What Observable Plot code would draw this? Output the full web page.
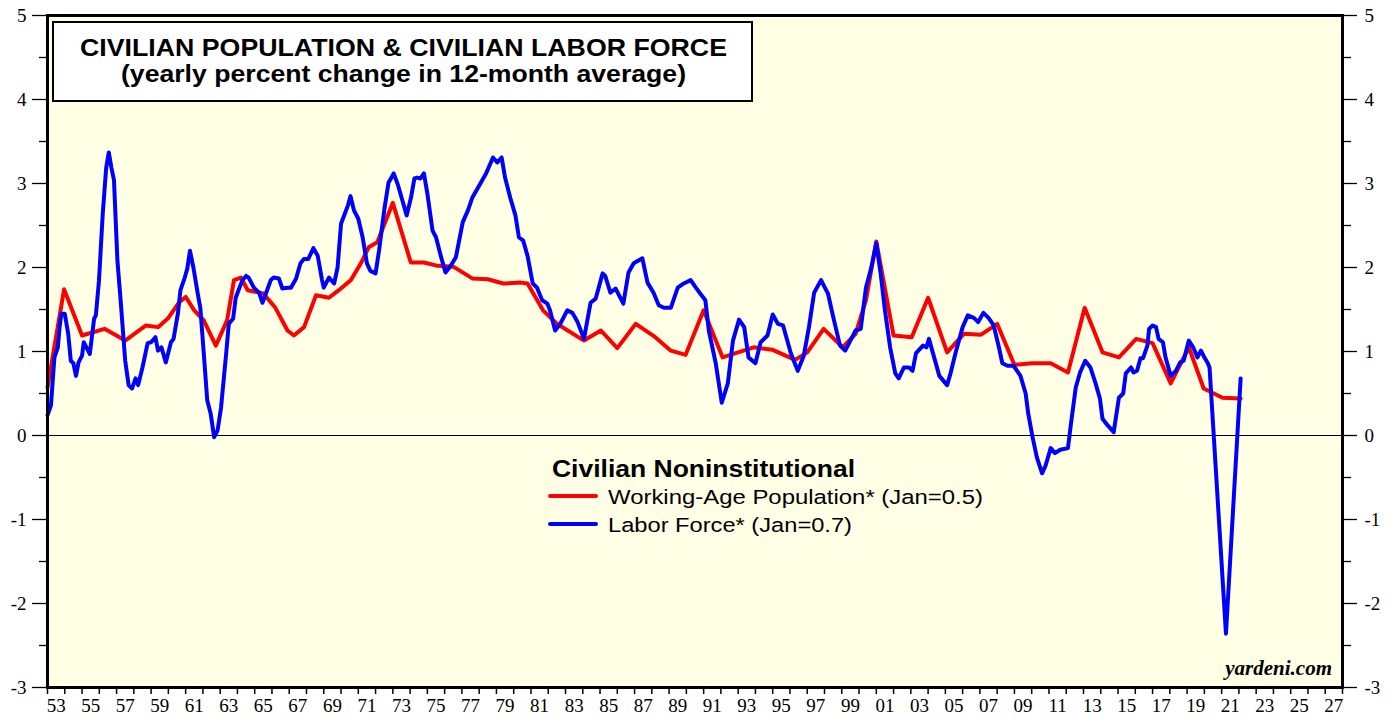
<!DOCTYPE html>
<html>
<head>
<meta charset="utf-8">
<script src="https://cdn.jsdelivr.net/npm/d3@7"></script>
<script src="https://cdn.jsdelivr.net/npm/@observablehq/plot@0.6"></script>
<style>
  html, body { margin: 0; padding: 0; background: #ffffff; }
  #chart { position: relative; width: 1395px; height: 721px; }
  #chart svg { display: block; }
</style>
</head>
<body>
<div id="chart"></div>
<script>
// ---- Data ----
const titleLine1 = "CIVILIAN POPULATION & CIVILIAN LABOR FORCE";
const titleLine2 = "(yearly percent change in 12-month average)";
const legendTitle = "Civilian Noninstitutional";
const seriesNames = ["Working-Age Population* (Jan=0.5)", "Labor Force* (Jan=0.7)"];
const seriesColors = ["#ff0000", "#0000ff"];
const sourceText = "yardeni.com";

const yTicks = [-3, -2, -1, 0, 1, 2, 3, 4, 5];
const yMinorTicks = [-2.5, -1.5, -0.5, 0.5, 1.5, 2.5, 3.5, 4.5];
const xTickYears = d3.range(1953, 2029);
const xLabelYears = d3.range(1953, 2028, 2);

const redYears = [1953.0,1953.96,1955.0,1956.3,1957.5,1958.7,1959.4,1960.0,1960.6,1961.0,1961.5,1962.05,1962.75,1963.4,1963.8,1964.2,1964.6,1965.5,1966.2,1966.9,1967.27,1967.86,1968.55,1969.3,1969.87,1970.57,1971.15,1971.6,1972.1,1973.0,1974.04,1974.8,1975.6,1976.5,1977.6,1978.5,1979.4,1980.4,1980.8,1981.7,1982.5,1984.07,1985.05,1986.0,1987.07,1988.2,1989.1,1989.96,1991.0,1992.1,1992.86,1993.9,1995.0,1996.3,1997.0,1997.95,1999.05,1999.8,2000.4,2001.0,2002.0,2003.05,2004.0,2005.1,2006.07,2007.07,2008.0,2009.0,2010.0,2011.1,2012.1,2013.07,2014.1,2015.05,2016.05,2017.0,2018.05,2019.1,2019.96,2021.05,2022.1];
const redValues = [0.57,1.74,1.19,1.27,1.13,1.31,1.29,1.40,1.58,1.65,1.49,1.37,1.07,1.37,1.85,1.88,1.73,1.69,1.52,1.25,1.19,1.29,1.67,1.64,1.73,1.85,2.05,2.24,2.30,2.77,2.06,2.06,2.02,2.01,1.87,1.86,1.81,1.82,1.81,1.49,1.33,1.13,1.25,1.04,1.33,1.17,1.01,0.96,1.49,0.93,0.98,1.05,1.02,0.90,0.99,1.27,1.05,1.21,1.61,2.31,1.19,1.17,1.64,0.99,1.21,1.20,1.33,0.84,0.86,0.86,0.75,1.52,0.99,0.93,1.15,1.10,0.62,1.05,0.56,0.45,0.44];

const blueYears = [1953.0,1953.2,1953.4,1953.6,1953.7,1953.8,1954.0,1954.2,1954.35,1954.5,1954.65,1954.8,1955.0,1955.1,1955.35,1955.45,1955.7,1955.8,1955.98,1956.2,1956.4,1956.55,1956.7,1956.85,1957.05,1957.25,1957.5,1957.7,1957.9,1958.1,1958.25,1958.5,1958.8,1959.0,1959.25,1959.4,1959.6,1959.85,1960.15,1960.3,1960.55,1960.7,1960.95,1961.1,1961.25,1961.45,1961.7,1961.85,1962.05,1962.25,1962.45,1962.65,1962.85,1963.05,1963.35,1963.5,1963.75,1963.9,1964.1,1964.3,1964.5,1964.65,1964.95,1965.25,1965.45,1965.65,1965.93,1966.1,1966.4,1966.6,1966.9,1967.1,1967.4,1967.65,1967.85,1968.1,1968.4,1968.65,1968.9,1969.0,1969.3,1969.6,1969.8,1970.0,1970.4,1970.55,1970.75,1971.0,1971.25,1971.5,1971.7,1972.0,1972.2,1972.5,1972.75,1973.05,1973.3,1973.55,1973.8,1974.05,1974.25,1974.4,1974.6,1974.8,1975.0,1975.3,1975.5,1975.8,1976.05,1976.35,1976.65,1977.05,1977.35,1977.6,1978.07,1978.4,1978.55,1978.8,1979.05,1979.3,1979.5,1979.8,1980.1,1980.3,1980.55,1980.8,1981.1,1981.35,1981.65,1981.95,1982.1,1982.4,1982.7,1983.1,1983.4,1983.7,1984.07,1984.45,1984.75,1985.15,1985.3,1985.6,1985.9,1986.35,1986.65,1986.95,1987.45,1987.75,1988.1,1988.4,1988.7,1989.1,1989.5,1989.85,1990.25,1990.55,1990.8,1991.1,1991.3,1991.7,1992.05,1992.4,1992.7,1993.05,1993.35,1993.6,1994.0,1994.3,1994.7,1995.0,1995.3,1995.6,1996.05,1996.45,1996.8,1997.1,1997.4,1997.8,1998.2,1998.55,1998.9,1999.2,1999.5,1999.8,2000.1,2000.4,2000.7,2001.0,2001.25,2001.5,2001.8,2002.1,2002.3,2002.6,2002.9,2003.1,2003.3,2003.7,2003.9,2004.05,2004.35,2004.65,2005.1,2005.3,2005.6,2006.0,2006.3,2006.65,2006.9,2007.2,2007.5,2007.8,2008.1,2008.3,2008.6,2008.95,2009.35,2009.65,2009.8,2010.05,2010.3,2010.6,2010.8,2011.1,2011.35,2011.65,2012.1,2012.25,2012.55,2012.8,2013.1,2013.4,2013.7,2013.95,2014.1,2014.4,2014.75,2015.05,2015.3,2015.45,2015.75,2015.9,2016.1,2016.3,2016.45,2016.7,2016.8,2017.0,2017.2,2017.35,2017.6,2017.75,2018.05,2018.35,2018.6,2018.8,2019.1,2019.35,2019.6,2019.8,2019.95,2020.2,2020.3,2021.25,2022.1];
const blueValues = [0.24,0.36,0.93,1.05,1.29,1.45,1.45,1.21,0.89,0.86,0.71,0.87,0.95,1.11,1.01,0.97,1.39,1.43,1.84,2.64,3.19,3.37,3.19,3.04,2.08,1.57,0.89,0.60,0.56,0.68,0.60,0.81,1.10,1.11,1.17,1.01,1.05,0.87,1.11,1.15,1.45,1.73,1.88,1.99,2.20,2.00,1.69,1.52,0.98,0.42,0.26,-0.02,0.06,0.33,0.98,1.33,1.39,1.64,1.75,1.85,1.90,1.88,1.76,1.70,1.58,1.69,1.85,1.88,1.87,1.75,1.76,1.76,1.87,2.05,2.10,2.10,2.23,2.14,1.85,1.76,1.88,1.81,2.00,2.52,2.74,2.85,2.68,2.58,2.36,2.05,1.96,1.93,2.20,2.68,3.01,3.12,2.98,2.80,2.62,2.83,3.06,3.07,3.06,3.12,2.88,2.44,2.36,2.12,1.94,2.02,2.12,2.54,2.68,2.83,3.00,3.12,3.19,3.31,3.25,3.31,3.07,2.83,2.62,2.36,2.32,2.14,1.81,1.76,1.61,1.57,1.49,1.25,1.33,1.49,1.46,1.35,1.15,1.58,1.63,1.93,1.90,1.70,1.75,1.57,1.94,2.05,2.11,1.82,1.70,1.55,1.52,1.52,1.76,1.81,1.85,1.76,1.69,1.61,1.25,0.86,0.39,0.62,1.13,1.38,1.29,0.93,0.86,1.11,1.19,1.44,1.33,1.31,0.98,0.77,0.95,1.29,1.70,1.85,1.69,1.37,1.07,1.01,1.13,1.25,1.27,1.76,1.99,2.29,1.93,1.49,1.05,0.74,0.68,0.81,0.81,0.77,0.98,1.07,1.05,1.15,0.93,0.71,0.60,0.74,0.99,1.29,1.43,1.40,1.35,1.46,1.40,1.31,1.05,0.86,0.83,0.83,0.71,0.50,0.26,-0.02,-0.26,-0.45,-0.36,-0.15,-0.21,-0.17,-0.15,0.10,0.57,0.75,0.89,0.81,0.62,0.44,0.20,0.12,0.04,0.45,0.50,0.74,0.81,0.75,0.77,0.92,0.92,1.07,1.27,1.31,1.29,1.15,1.11,0.93,0.71,0.77,0.87,0.89,1.13,1.05,0.93,1.01,0.95,0.86,0.81,-2.36,0.68];

const redData = redYears.map((t, i) => ({t, v: redValues[i]}));
const blueData = blueYears.map((t, i) => ({t, v: blueValues[i]}));

const yFmt = d => String(d);
const xFmt = d => String(Math.floor(d) % 100).padStart(2, "0");

const chart = Plot.plot({
  width: 1395,
  height: 721,
  marginLeft: 47,
  marginRight: 53,
  marginTop: 15,
  marginBottom: 34,
  style: {fontFamily: "'Liberation Serif', 'Times New Roman', serif", fontSize: "19px", color: "#000", background: "#ffffff"},
  x: {type: "linear", domain: [1953, 2028]},
  y: {domain: [-3, 5]},
  marks: [
    Plot.frame({fill: "#ffffe6", stroke: null}),
    Plot.ruleY([0], {stroke: "#000", strokeWidth: 1.2}),
    Plot.line(redData, {x: "t", y: "v", stroke: seriesColors[0], strokeWidth: 4, strokeLinejoin: "round", strokeLinecap: "round"}),
    Plot.line(blueData, {x: "t", y: "v", stroke: seriesColors[1], strokeWidth: 4, strokeLinejoin: "round", strokeLinecap: "round"}),
    // y axes left & right
    Plot.axisY(yTicks, {anchor: "left", tickSize: 15, tickPadding: 6, tickFormat: yFmt, label: null, strokeWidth: 1.3}),
    Plot.axisY(yMinorTicks, {anchor: "left", tickSize: 8, tickFormat: () => "", label: null, strokeWidth: 1.3}),
    Plot.axisY(yTicks, {anchor: "right", tickSize: 14, tickPadding: 8, tickFormat: yFmt, label: null, strokeWidth: 1.3}),
    Plot.axisY(yMinorTicks, {anchor: "right", tickSize: 8, tickFormat: () => "", label: null, strokeWidth: 1.3}),
    // x axis: yearly ticks, labels at mid odd years
    Plot.axisX(xTickYears, {anchor: "bottom", tickSize: 7, tickFormat: () => "", label: null, strokeWidth: 1.5}),
    Plot.axisX(xLabelYears.map(y => y + 0.5), {anchor: "bottom", tickSize: 0, tickPadding: 11, tickFormat: xFmt, label: null}),
    Plot.frame({stroke: "#000", strokeWidth: 3})
  ]
});

document.getElementById("chart").appendChild(chart);

// ---- Annotations: title box, legend, source ----
const svg = d3.select(chart);
const sans = "'Liberation Sans', Arial, Helvetica, sans-serif";

const tb = svg.append("g").attr("text-anchor", "start");
tb.append("rect").attr("x", 53).attr("y", 22).attr("width", 699).attr("height", 79)
  .attr("fill", "#ffffff").attr("stroke", "#000").attr("stroke-width", 2);
tb.append("text").attr("x", 80).attr("y", 56).attr("text-anchor", "start").attr("font-family", sans).attr("font-weight", "bold")
  .attr("font-size", 23).attr("textLength", 647).attr("lengthAdjust", "spacingAndGlyphs").attr("fill", "#000").text(titleLine1);
tb.append("text").attr("x", 121).attr("y", 82).attr("text-anchor", "start").attr("font-family", sans).attr("font-weight", "bold")
  .attr("font-size", 23).attr("textLength", 565).attr("lengthAdjust", "spacingAndGlyphs").attr("fill", "#000").text(titleLine2);

const lg = svg.append("g").attr("text-anchor", "start");
lg.append("text").attr("x", 552).attr("y", 477).attr("text-anchor", "start").attr("font-family", sans).attr("font-weight", "bold")
  .attr("font-size", 23).attr("textLength", 303).attr("lengthAdjust", "spacingAndGlyphs").attr("fill", "#000").text(legendTitle);
const rowsY = [496, 524];
const rowsLen = [375, 244];
seriesNames.forEach((name, i) => {
  lg.append("line").attr("x1", 550).attr("x2", 596).attr("y1", rowsY[i]).attr("y2", rowsY[i])
    .attr("stroke", seriesColors[i]).attr("stroke-width", 4).attr("stroke-linecap", "round");
  lg.append("text").attr("x", 608).attr("y", rowsY[i] + 7.5).attr("text-anchor", "start").attr("font-family", sans)
    .attr("font-size", 20.5).attr("textLength", rowsLen[i]).attr("lengthAdjust", "spacingAndGlyphs").attr("fill", "#000").text(name);
});

svg.append("text").attr("x", 1332).attr("y", 675).attr("text-anchor", "end")
  .attr("font-family", "'Liberation Serif', 'Times New Roman', serif").attr("font-weight", "bold").attr("font-style", "italic")
  .attr("font-size", 21).attr("fill", "#000").text(sourceText);
</script>
</body>
</html>
